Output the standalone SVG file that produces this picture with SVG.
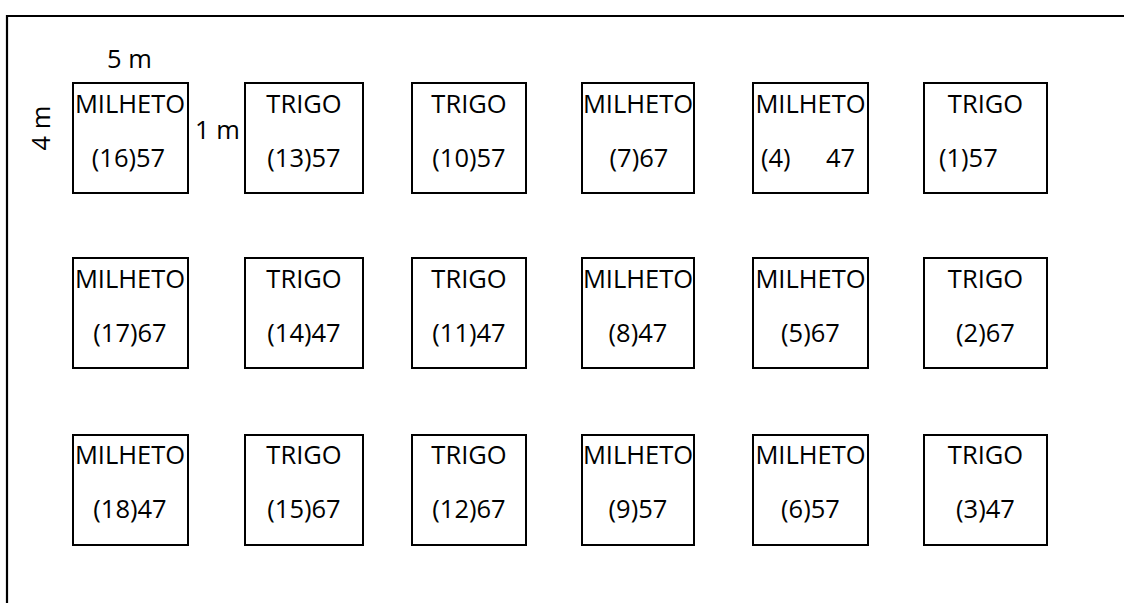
<svg xmlns="http://www.w3.org/2000/svg" width="1124" height="603" viewBox="0 0 1124 603">
<style>
.plot{fill:#fff;stroke:#000;stroke-width:2}
text{font-family:"Open Sans","Liberation Sans",sans-serif;font-size:25.5px;fill:#000}
.c{text-anchor:middle}
</style>
<rect x="0" y="0" width="1124" height="603" fill="#fff"/>
<g id="border" fill="none" stroke="#000" stroke-width="2.2">
<path d="M7 603 V16 H1124"/>
</g>
<g id="dimensions">
<text class="c" x="129.5" y="68">5 m</text>
<text x="195" y="139">1 m</text>
<text class="c" transform="translate(49.5,128) rotate(-90)">4 m</text>
</g>
<g id="connectors"></g>
<g id="p16"><rect class="plot" x="73" y="83" width="115" height="110"/><text class="c" x="130" y="113">MILHETO</text><text class="c" x="128.5" y="167">(16)57</text></g>
<g id="p13"><rect class="plot" x="245" y="83" width="118" height="110"/><text class="c" x="304" y="113">TRIGO</text><text class="c" x="304" y="167">(13)57</text></g>
<g id="p10"><rect class="plot" x="412" y="83" width="114" height="110"/><text class="c" x="469" y="113">TRIGO</text><text class="c" x="469" y="167">(10)57</text></g>
<g id="p7"><rect class="plot" x="582" y="83" width="112" height="110"/><text class="c" x="638" y="113">MILHETO</text><text class="c" x="639" y="167">(7)67</text></g>
<g id="p4"><rect class="plot" x="753" y="83" width="115" height="110"/><text class="c" x="810.5" y="113">MILHETO</text><text y="167"><tspan x="761">(4)</tspan><tspan x="826">47</tspan></text></g>
<g id="p1"><rect class="plot" x="924" y="83" width="123" height="110"/><text class="c" x="985.5" y="113">TRIGO</text><text x="939" y="167">(1)57</text></g>

<g id="p17"><rect class="plot" x="73" y="258" width="115" height="110"/><text class="c" x="130" y="288">MILHETO</text><text class="c" x="130" y="342">(17)67</text></g>
<g id="p14"><rect class="plot" x="245" y="258" width="118" height="110"/><text class="c" x="304" y="288">TRIGO</text><text class="c" x="304" y="342">(14)47</text></g>
<g id="p11"><rect class="plot" x="412" y="258" width="114" height="110"/><text class="c" x="469" y="288">TRIGO</text><text class="c" x="469" y="342">(11)47</text></g>
<g id="p8"><rect class="plot" x="582" y="258" width="112" height="110"/><text class="c" x="638" y="288">MILHETO</text><text class="c" x="638" y="342">(8)47</text></g>
<g id="p5"><rect class="plot" x="753" y="258" width="115" height="110"/><text class="c" x="810.5" y="288">MILHETO</text><text class="c" x="810.5" y="342">(5)67</text></g>
<g id="p2"><rect class="plot" x="924" y="258" width="123" height="110"/><text class="c" x="985.5" y="288">TRIGO</text><text class="c" x="985.5" y="342">(2)67</text></g>

<g id="p18"><rect class="plot" x="73" y="435" width="115" height="110"/><text class="c" x="130" y="464">MILHETO</text><text class="c" x="130" y="518">(18)47</text></g>
<g id="p15"><rect class="plot" x="245" y="435" width="118" height="110"/><text class="c" x="304" y="464">TRIGO</text><text class="c" x="304" y="518">(15)67</text></g>
<g id="p12"><rect class="plot" x="412" y="435" width="114" height="110"/><text class="c" x="469" y="464">TRIGO</text><text class="c" x="469" y="518">(12)67</text></g>
<g id="p9"><rect class="plot" x="582" y="435" width="112" height="110"/><text class="c" x="638" y="464">MILHETO</text><text class="c" x="638" y="518">(9)57</text></g>
<g id="p6"><rect class="plot" x="753" y="435" width="115" height="110"/><text class="c" x="810.5" y="464">MILHETO</text><text class="c" x="810.5" y="518">(6)57</text></g>
<g id="p3"><rect class="plot" x="924" y="435" width="123" height="110"/><text class="c" x="985.5" y="464">TRIGO</text><text class="c" x="985.5" y="518">(3)47</text></g>
</svg>
